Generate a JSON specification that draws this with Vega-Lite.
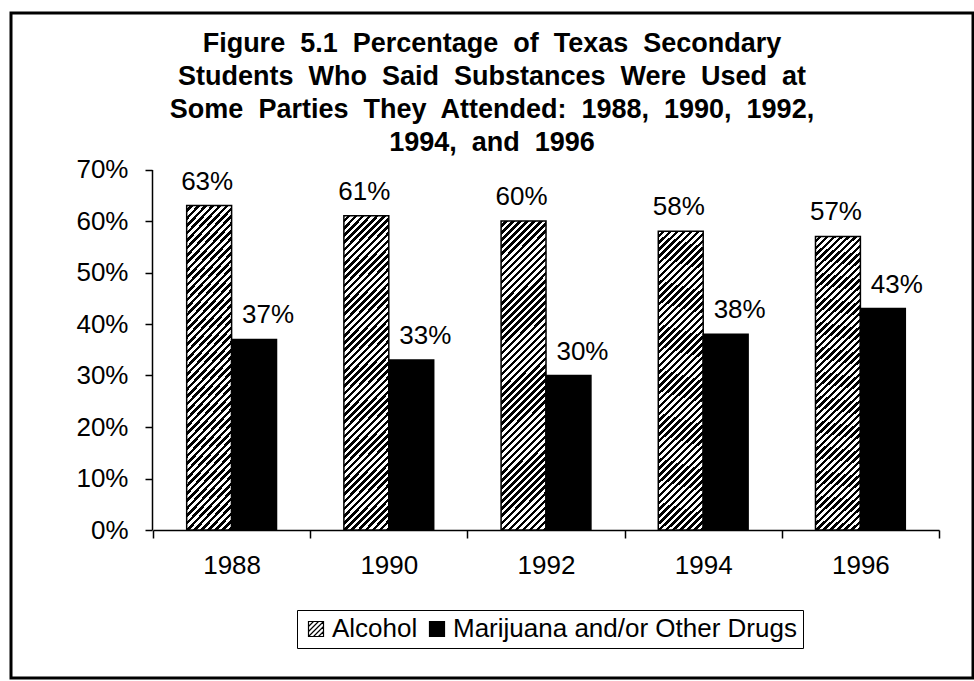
{
  "$schema": "https://vega.github.io/schema/vega-lite/v6.json",
  "width": 962,
  "height": 665,
  "autosize": {"type": "none"},
  "padding": {"left": 11, "top": 13, "right": 1, "bottom": 3},
  "background": "white",
  "title": {
    "text": ["Figure\u00a0 5.1\u00a0 Percentage\u00a0 of\u00a0 Texas\u00a0 Secondary", "Students\u00a0 Who\u00a0 Said\u00a0 Substances\u00a0 Were\u00a0 Used\u00a0 at", "Some\u00a0 Parties\u00a0 They\u00a0 Attended:\u00a0 1988,\u00a0 1990,\u00a0 1992,", "1994,\u00a0 and\u00a0 1996"],
    "font": "Liberation Sans",
    "fontSize": 27,
    "fontWeight": "bold",
    "color": "black",
    "lineHeight": 33,
    "anchor": "middle",
    "frame": "group",
    "baseline": "top",
    "offset": -144
  },
  "data": {
    "values": [
      {"year": "1988", "series": "Alcohol", "value": 0.63},
      {"year": "1988", "series": "Marijuana and/or Other Drugs", "value": 0.37},
      {"year": "1990", "series": "Alcohol", "value": 0.61},
      {"year": "1990", "series": "Marijuana and/or Other Drugs", "value": 0.33},
      {"year": "1992", "series": "Alcohol", "value": 0.60},
      {"year": "1992", "series": "Marijuana and/or Other Drugs", "value": 0.30},
      {"year": "1994", "series": "Alcohol", "value": 0.58},
      {"year": "1994", "series": "Marijuana and/or Other Drugs", "value": 0.38},
      {"year": "1996", "series": "Alcohol", "value": 0.57},
      {"year": "1996", "series": "Marijuana and/or Other Drugs", "value": 0.43}
    ]
  },
  "encoding": {
    "x": {
      "field": "year",
      "type": "nominal",
      "scale": {"range": [142, 928], "paddingInner": 0, "paddingOuter": 0},
      "axis": {
        "title": null,
        "labelAngle": 0,
        "tickBand": "extent",
        "tickSize": 8,
        "tickWidth": 1.5,
        "tickColor": "black",
        "domainColor": "black",
        "domainWidth": 1.5,
        "labelFont": "Liberation Sans",
        "labelFontSize": 26,
        "labelColor": "black",
        "labelPadding": 14,
        "offset": -148
      }
    },
    "xOffset": {
      "field": "series",
      "type": "nominal",
      "scale": {"domain": ["Alcohol", "Marijuana and/or Other Drugs"], "paddingInner": 0, "paddingOuter": 0.75}
    },
    "y": {
      "field": "value",
      "type": "quantitative",
      "scale": {"domain": [0, 0.7], "range": [517, 156.5], "nice": false},
      "axis": {
        "title": null,
        "grid": false,
        "format": ".0%",
        "values": [0, 0.1, 0.2, 0.3, 0.4, 0.5, 0.6, 0.7],
        "tickSize": 7,
        "tickWidth": 1.5,
        "tickColor": "black",
        "domainColor": "black",
        "domainWidth": 1.5,
        "labelFont": "Liberation Sans",
        "labelFontSize": 26,
        "labelColor": "black",
        "labelPadding": 17,
        "offset": -141
      }
    }
  },
  "layer": [
    {
      "mark": {"type": "bar", "stroke": "black", "strokeWidth": 1.5},
      "encoding": {
        "fill": {
          "field": "series",
          "type": "nominal",
          "scale": {"domain": ["Alcohol", "Marijuana and/or Other Drugs"], "range": ["white", "black"]},
          "condition": {
            "test": "datum.series === 'Alcohol'",
            "value": {
              "gradient": "linear", "x1": 0, "y1": 0, "x2": 0.164, "y2": 1.122,
              "stops": [
                {"offset":0,"color":"#fff"},
                {"offset":0.01,"color":"#fff"},{"offset":0.01,"color":"#000"},
                {"offset":0.02,"color":"#000"},{"offset":0.02,"color":"#fff"},
                {"offset":0.03,"color":"#fff"},{"offset":0.03,"color":"#000"},
                {"offset":0.04,"color":"#000"},{"offset":0.04,"color":"#fff"},
                {"offset":0.05,"color":"#fff"},{"offset":0.05,"color":"#000"},
                {"offset":0.06,"color":"#000"},{"offset":0.06,"color":"#fff"},
                {"offset":0.07,"color":"#fff"},{"offset":0.07,"color":"#000"},
                {"offset":0.08,"color":"#000"},{"offset":0.08,"color":"#fff"},
                {"offset":0.09,"color":"#fff"},{"offset":0.09,"color":"#000"},
                {"offset":0.10,"color":"#000"},{"offset":0.10,"color":"#fff"},
                {"offset":0.11,"color":"#fff"},{"offset":0.11,"color":"#000"},
                {"offset":0.12,"color":"#000"},{"offset":0.12,"color":"#fff"},
                {"offset":0.13,"color":"#fff"},{"offset":0.13,"color":"#000"},
                {"offset":0.14,"color":"#000"},{"offset":0.14,"color":"#fff"},
                {"offset":0.15,"color":"#fff"},{"offset":0.15,"color":"#000"},
                {"offset":0.16,"color":"#000"},{"offset":0.16,"color":"#fff"},
                {"offset":0.17,"color":"#fff"},{"offset":0.17,"color":"#000"},
                {"offset":0.18,"color":"#000"},{"offset":0.18,"color":"#fff"},
                {"offset":0.19,"color":"#fff"},{"offset":0.19,"color":"#000"},
                {"offset":0.20,"color":"#000"},{"offset":0.20,"color":"#fff"},
                {"offset":0.21,"color":"#fff"},{"offset":0.21,"color":"#000"},
                {"offset":0.22,"color":"#000"},{"offset":0.22,"color":"#fff"},
                {"offset":0.23,"color":"#fff"},{"offset":0.23,"color":"#000"},
                {"offset":0.24,"color":"#000"},{"offset":0.24,"color":"#fff"},
                {"offset":0.25,"color":"#fff"},{"offset":0.25,"color":"#000"},
                {"offset":0.26,"color":"#000"},{"offset":0.26,"color":"#fff"},
                {"offset":0.27,"color":"#fff"},{"offset":0.27,"color":"#000"},
                {"offset":0.28,"color":"#000"},{"offset":0.28,"color":"#fff"},
                {"offset":0.29,"color":"#fff"},{"offset":0.29,"color":"#000"},
                {"offset":0.30,"color":"#000"},{"offset":0.30,"color":"#fff"},
                {"offset":0.31,"color":"#fff"},{"offset":0.31,"color":"#000"},
                {"offset":0.32,"color":"#000"},{"offset":0.32,"color":"#fff"},
                {"offset":0.33,"color":"#fff"},{"offset":0.33,"color":"#000"},
                {"offset":0.34,"color":"#000"},{"offset":0.34,"color":"#fff"},
                {"offset":0.35,"color":"#fff"},{"offset":0.35,"color":"#000"},
                {"offset":0.36,"color":"#000"},{"offset":0.36,"color":"#fff"},
                {"offset":0.37,"color":"#fff"},{"offset":0.37,"color":"#000"},
                {"offset":0.38,"color":"#000"},{"offset":0.38,"color":"#fff"},
                {"offset":0.39,"color":"#fff"},{"offset":0.39,"color":"#000"},
                {"offset":0.40,"color":"#000"},{"offset":0.40,"color":"#fff"},
                {"offset":0.41,"color":"#fff"},{"offset":0.41,"color":"#000"},
                {"offset":0.42,"color":"#000"},{"offset":0.42,"color":"#fff"},
                {"offset":0.43,"color":"#fff"},{"offset":0.43,"color":"#000"},
                {"offset":0.44,"color":"#000"},{"offset":0.44,"color":"#fff"},
                {"offset":0.45,"color":"#fff"},{"offset":0.45,"color":"#000"},
                {"offset":0.46,"color":"#000"},{"offset":0.46,"color":"#fff"},
                {"offset":0.47,"color":"#fff"},{"offset":0.47,"color":"#000"},
                {"offset":0.48,"color":"#000"},{"offset":0.48,"color":"#fff"},
                {"offset":0.49,"color":"#fff"},{"offset":0.49,"color":"#000"},
                {"offset":0.50,"color":"#000"},{"offset":0.50,"color":"#fff"},
                {"offset":0.51,"color":"#fff"},{"offset":0.51,"color":"#000"},
                {"offset":0.52,"color":"#000"},{"offset":0.52,"color":"#fff"},
                {"offset":0.53,"color":"#fff"},{"offset":0.53,"color":"#000"},
                {"offset":0.54,"color":"#000"},{"offset":0.54,"color":"#fff"},
                {"offset":0.55,"color":"#fff"},{"offset":0.55,"color":"#000"},
                {"offset":0.56,"color":"#000"},{"offset":0.56,"color":"#fff"},
                {"offset":0.57,"color":"#fff"},{"offset":0.57,"color":"#000"},
                {"offset":0.58,"color":"#000"},{"offset":0.58,"color":"#fff"},
                {"offset":0.59,"color":"#fff"},{"offset":0.59,"color":"#000"},
                {"offset":0.60,"color":"#000"},{"offset":0.60,"color":"#fff"},
                {"offset":0.61,"color":"#fff"},{"offset":0.61,"color":"#000"},
                {"offset":0.62,"color":"#000"},{"offset":0.62,"color":"#fff"},
                {"offset":0.63,"color":"#fff"},{"offset":0.63,"color":"#000"},
                {"offset":0.64,"color":"#000"},{"offset":0.64,"color":"#fff"},
                {"offset":0.65,"color":"#fff"},{"offset":0.65,"color":"#000"},
                {"offset":0.66,"color":"#000"},{"offset":0.66,"color":"#fff"},
                {"offset":0.67,"color":"#fff"},{"offset":0.67,"color":"#000"},
                {"offset":0.68,"color":"#000"},{"offset":0.68,"color":"#fff"},
                {"offset":0.69,"color":"#fff"},{"offset":0.69,"color":"#000"},
                {"offset":0.70,"color":"#000"},{"offset":0.70,"color":"#fff"},
                {"offset":0.71,"color":"#fff"},{"offset":0.71,"color":"#000"},
                {"offset":0.72,"color":"#000"},{"offset":0.72,"color":"#fff"},
                {"offset":0.73,"color":"#fff"},{"offset":0.73,"color":"#000"},
                {"offset":0.74,"color":"#000"},{"offset":0.74,"color":"#fff"},
                {"offset":0.75,"color":"#fff"},{"offset":0.75,"color":"#000"},
                {"offset":0.76,"color":"#000"},{"offset":0.76,"color":"#fff"},
                {"offset":0.77,"color":"#fff"},{"offset":0.77,"color":"#000"},
                {"offset":0.78,"color":"#000"},{"offset":0.78,"color":"#fff"},
                {"offset":0.79,"color":"#fff"},{"offset":0.79,"color":"#000"},
                {"offset":0.80,"color":"#000"},{"offset":0.80,"color":"#fff"},
                {"offset":0.81,"color":"#fff"},{"offset":0.81,"color":"#000"},
                {"offset":0.82,"color":"#000"},{"offset":0.82,"color":"#fff"},
                {"offset":0.83,"color":"#fff"},{"offset":0.83,"color":"#000"},
                {"offset":0.84,"color":"#000"},{"offset":0.84,"color":"#fff"},
                {"offset":0.85,"color":"#fff"},{"offset":0.85,"color":"#000"},
                {"offset":0.86,"color":"#000"},{"offset":0.86,"color":"#fff"},
                {"offset":0.87,"color":"#fff"},{"offset":0.87,"color":"#000"},
                {"offset":0.88,"color":"#000"},{"offset":0.88,"color":"#fff"},
                {"offset":0.89,"color":"#fff"},{"offset":0.89,"color":"#000"},
                {"offset":0.90,"color":"#000"},{"offset":0.90,"color":"#fff"},
                {"offset":0.91,"color":"#fff"},{"offset":0.91,"color":"#000"},
                {"offset":0.92,"color":"#000"},{"offset":0.92,"color":"#fff"},
                {"offset":0.93,"color":"#fff"},{"offset":0.93,"color":"#000"},
                {"offset":0.94,"color":"#000"},{"offset":0.94,"color":"#fff"},
                {"offset":0.95,"color":"#fff"},{"offset":0.95,"color":"#000"},
                {"offset":0.96,"color":"#000"},{"offset":0.96,"color":"#fff"},
                {"offset":0.97,"color":"#fff"},{"offset":0.97,"color":"#000"},
                {"offset":0.98,"color":"#000"},{"offset":0.98,"color":"#fff"},
                {"offset":0.99,"color":"#fff"},{"offset":0.99,"color":"#000"},
                {"offset":1,"color":"#000"}
              ]
            }
          },
          "legend": {
            "orient": "none",
            "legendX": 286,
            "legendY": 597,
            "direction": "horizontal",
            "title": null,
            "strokeColor": "black",
            "padding": 6,
            "symbolType": "M-1,-1H1V1H-1Z M-1,-0.333L-0.333,-1 M-1,0.333L0.333,-1 M-1,1L1,-1 M-0.333,1L1,-0.333 M0.333,1L1,0.333",
            "symbolSize": 225,
            "symbolStrokeColor": "black",
            "symbolStrokeWidth": 1.2,
            "labelFont": "Liberation Sans",
            "labelFontSize": 26,
            "labelColor": "black",
            "labelOffset": 3,
            "columnPadding": 6,
            "labelLimit": 0
          }
        }
      }
    },
    {
      "transform": [{"filter": "datum.series === 'Alcohol'"}],
      "mark": {"type": "text", "baseline": "alphabetic", "dy": -16, "dx": -2, "font": "Liberation Sans", "fontSize": 26, "color": "black"},
      "encoding": {"text": {"field": "value", "type": "quantitative", "format": ".0%"}}
    },
    {
      "transform": [{"filter": "datum.series !== 'Alcohol'"}],
      "mark": {"type": "text", "baseline": "alphabetic", "dy": -16, "dx": 14, "font": "Liberation Sans", "fontSize": 26, "color": "black"},
      "encoding": {"text": {"field": "value", "type": "quantitative", "format": ".0%"}}
    }
  ],
  "config": {
    "view": {"stroke": "black", "strokeWidth": 3, "fill": "white"}
  }
}
